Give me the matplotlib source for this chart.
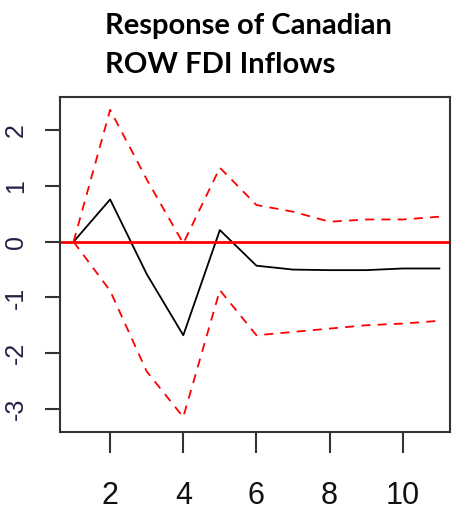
import matplotlib
matplotlib.use("Agg")
import matplotlib.pyplot as plt
import numpy as np

# impulse response horizon
steps = [1, 2, 3, 4, 5, 6, 7, 8, 9, 10, 11]
irf = [0.0, 0.76, -0.58, -1.68, 0.21, -0.43, -0.50, -0.51, -0.51, -0.48, -0.48]
upper = [0.0, 2.37, 1.12, -0.03, 1.33, 0.66, 0.54, 0.36, 0.40, 0.40, 0.45]
lower = [0.0, -0.88, -2.33, -3.15, -0.87, -1.68, -1.62, -1.56, -1.50, -1.47, -1.42]

xticks = [2, 4, 6, 8, 10]
yticks = [-3, -2, -1, 0, 1, 2]

fig = plt.figure(figsize=(4.55, 5.12), dpi=100)
ax = fig.add_axes([0.1319, 0.156, 0.857, 0.6545])

ax.plot(steps, irf, color="black", lw=1.3)
ax.plot(steps, upper, color="red", lw=1.3, dashes=(5, 4))
ax.plot(steps, lower, color="red", lw=1.3, dashes=(5, 4))
ax.axhline(0, color="red", lw=2)

ax.set_xlim(0.63, 11.29)
ax.set_ylim(-3.42, 2.60)

for s in ax.spines.values():
    s.set_linewidth(1.5)
    s.set_color("#333333")

ax.set_xticks(xticks)
ax.set_yticks(yticks)
ax.tick_params(axis="x", length=15, width=1.5, color="#333333", pad=20)
ax.tick_params(axis="y", length=11, width=1.5, color="#333333", pad=12)
ax.set_xticklabels([str(t) for t in xticks], family="Liberation Sans",
                   fontsize=22, color="#111111")
ax.set_yticklabels([str(t) for t in yticks], family="Liberation Sans",
                   fontsize=18, color="#222244", rotation=90, va="center")

fig.text(105 / 455, 1 - 34 / 512, "Response of Canadian", family="Lato",
         weight="bold", fontsize=21, va="baseline", ha="left")
fig.text(105 / 455, 1 - 72.7 / 512, "ROW FDI Inflows", family="Lato",
         weight="bold", fontsize=21, va="baseline", ha="left")

fig.savefig("out.png", dpi=100)
